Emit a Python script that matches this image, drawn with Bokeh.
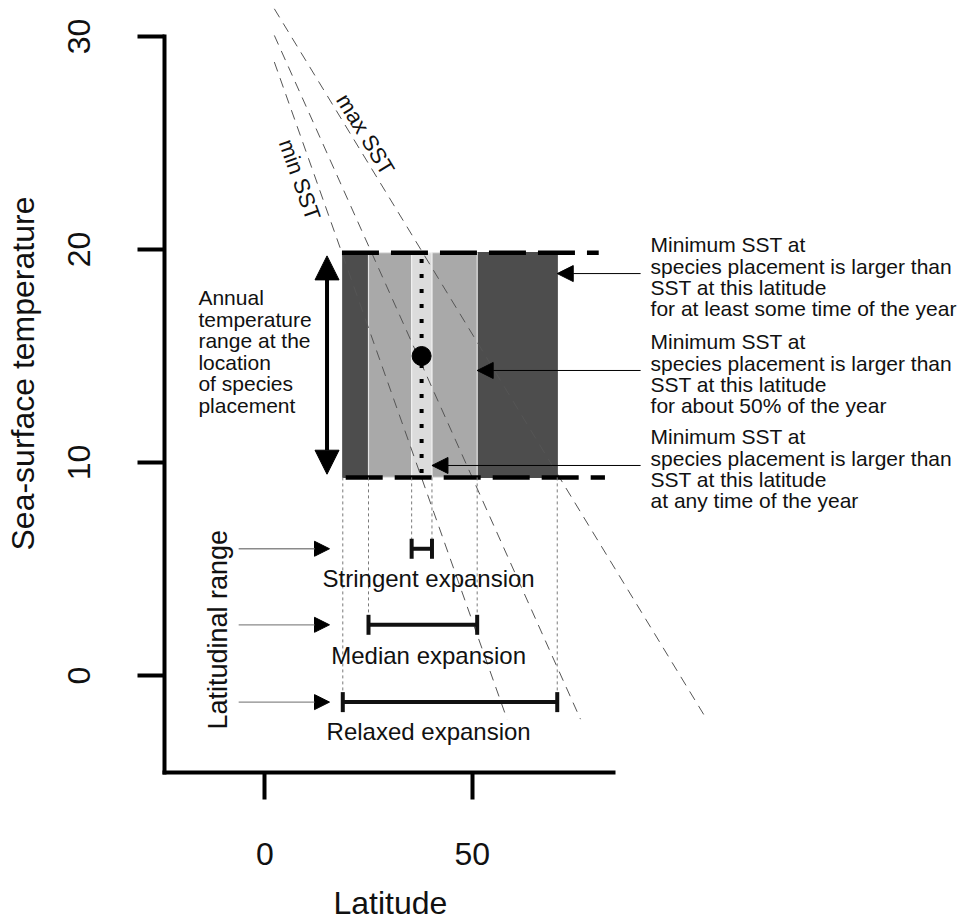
from bokeh.plotting import figure
from bokeh.models import Range1d, FixedTicker, Arrow, NormalHead, TeeHead, Title, LinearAxis
from bokeh.core.properties import value
from bokeh.embed import file_html
from bokeh.resources import INLINE

FONT = "Liberation Sans"
INK = "#111111"

# ---------------- data ----------------
lat_ticks = [0, 50]
sst_ticks = [0, 10, 20, 30]

# SST isolines (latitude vs sea-surface temperature)
iso_lat_start = [2.3, 2.3, 2.3]
iso_sst_start = [28.8, 30.05, 31.3]
iso_lat_end = [58.4, 76.1, 106.5]
iso_sst_end = [-2.05, -2.05, -2.05]

# annual SST range at the location of species placement
sst_min = 9.3
sst_max = 19.85
placement_lat = 37.8
placement_sst = 15.0

# latitudinal expansion ranges
exp_names = ["Relaxed expansion", "Median expansion", "Stringent expansion"]
exp_lat_lo = [18.8, 25.0, 35.4]
exp_lat_hi = [70.5, 51.2, 40.3]
exp_level = [-1.25, 2.38, 5.95]
exp_fill = ["#4d4d4d", "#a9a9a9", "#dcdcdc"]
exp_edge = ["#4d4d4d", "#e4e4e4", "#f2f2f2"]

threshold_top_lat = [18.6, 80.5]
threshold_bottom_lat = [19.5, 82.0]

note_sst = [18.87, 14.32, 9.86]
note_texts = [
    ["Minimum SST at", "species placement is larger than", "SST at this latitude",
     "for at least some time of the year"],
    ["Minimum SST at", "species placement is larger than", "SST at this latitude",
     "for about 50% of the year"],
    ["Minimum SST at", "species placement is larger than", "SST at this latitude",
     "at any time of the year"],
]
range_text = ["Annual", "temperature", "range at the", "location", "of species", "placement"]

# ---------------- figure ----------------
X0, X1 = -24.18, 168.68
Y0, Y1 = -4.554, 31.69
PX_PER_Y = 772 / (Y1 - Y0)

p = figure(width=964, height=924, x_range=Range1d(X0, X1), y_range=Range1d(Y0, Y1),
           output_backend="svg", toolbar_location=None,
           min_border_left=164, min_border_right=0, min_border_top=0, min_border_bottom=152)
p.outline_line_color = None
p.grid.visible = False
p.background_fill_color = "white"
p.border_fill_color = "white"

xax = p.xaxis[0]
yax = p.yaxis[0]
for ax, ticks, bounds in ((xax, lat_ticks, (X0, 84.1)), (yax, sst_ticks, (Y0, 30))):
    ax.ticker = FixedTicker(ticks=ticks)
    ax.bounds = bounds
    ax.axis_line_width = 4
    ax.axis_line_color = "black"
    ax.axis_line_cap = "square"
    ax.major_tick_line_width = 4
    ax.major_tick_line_color = "black"
    ax.major_tick_out = 27
    ax.major_tick_in = 0
    ax.minor_tick_line_color = None
    ax.major_label_text_font = FONT
    ax.major_label_text_font_size = "32px"
    ax.major_label_text_color = INK
xax.major_label_standoff = 43
yax.major_label_standoff = 47
yax.major_label_orientation = "parallel"


def gap(px, at):
    # a blank axis (one white tick in an empty spot, no label) used only as spacing
    return LinearAxis(ticker=FixedTicker(ticks=[at]), axis_line_color=None,
                      major_tick_line_color="white", major_tick_line_width=1,
                      minor_tick_line_color=None,
                      major_tick_out=px, major_tick_in=0, minor_tick_out=0, minor_tick_in=0,
                      major_label_overrides={at: ""}, major_label_text_font_size="0px",
                      major_label_standoff=0)


# axis titles, placed as in the original (centred on the drawn part of the axes)
p.add_layout(gap(15, 150), "below")
p.add_layout(Title(text="Latitude", align="left", offset=169, vertical_align="bottom",
                   standoff=0, text_font=FONT, text_font_size="32px",
                   text_font_style="normal", text_color=INK), "below")
p.add_layout(gap(23, 28), "left")
p.add_layout(Title(text="Sea-surface temperature", align="left", offset=222,
                   vertical_align="top", standoff=0, text_font=FONT,
                   text_font_size="32px", text_font_style="normal", text_color=INK), "left")

# rectangles of the temperature window
p.quad(left=exp_lat_lo, right=exp_lat_hi, bottom=[sst_min] * 3, top=[sst_max] * 3,
       fill_color=exp_fill, line_color=exp_edge, line_width=1.2)

# SST isolines
p.segment(x0=iso_lat_start, y0=iso_sst_start, x1=iso_lat_end, y1=iso_sst_end,
          line_color="#555555", line_width=1, line_dash="10 7")
p.text(x=[8.41, 24.28], y=[23.28, 25.4], text=["min SST", "max SST"],
       angle=[-70.5, -58.7], angle_units="deg", text_align="center", text_baseline="middle",
       text_font=value(FONT), text_font_size="22px", text_color=INK)

# min / max SST threshold lines
p.line(x=threshold_top_lat, y=[sst_max, sst_max], line_color="black", line_width=4.5,
       line_dash="37 12")
p.line(x=threshold_bottom_lat, y=[sst_min, sst_min], line_color="black", line_width=4.5,
       line_dash="37 12")

# placement
p.line(x=[placement_lat, placement_lat], y=[sst_max - 0.3, sst_min + 0.1], line_color="black",
       line_width=4, line_dash="4 11")
p.scatter(x=[placement_lat], y=[placement_sst], size=19, marker="circle",
          fill_color="black", line_color="black")

# drop lines to the expansion ranges
drop_x = exp_lat_lo + exp_lat_hi
drop_y = exp_level + exp_level
p.segment(x0=drop_x, y0=[sst_min] * 6, x1=drop_x, y1=drop_y, line_color="#7a7a7a",
          line_width=1, line_dash="3 3")

# expansion range bars
for lo, hi, lev in zip(exp_lat_lo, exp_lat_hi, exp_level):
    p.add_layout(Arrow(start=TeeHead(size=20, line_width=4, line_color=INK),
                       end=TeeHead(size=20, line_width=4, line_color=INK),
                       x_start=lo, y_start=lev, x_end=hi, y_end=lev,
                       line_width=4, line_color=INK))
p.text(x=[39.5] * 3, y=[-2.65, 0.94, 4.55], text=exp_names, text_align="center",
       text_baseline="middle", text_font=value(FONT), text_font_size="24px", text_color=INK)

# "Latitudinal range" arrows
for lev in exp_level:
    p.add_layout(Arrow(end=NormalHead(size=15, fill_color="black", line_color="black", line_width=1),
                       x_start=-6.3, y_start=lev, x_end=15.6, y_end=lev,
                       line_width=1.3, line_color="#8a8a8a"))
p.text(x=[-11.3], y=[2.15], text=["Latitudinal range"], angle=[90], angle_units="deg",
       text_align="center", text_baseline="middle", text_font=value(FONT),
       text_font_size="27px", text_color=INK)

# annual range double arrow
p.add_layout(Arrow(start=NormalHead(size=24, fill_color="black", line_color="black"),
                   end=NormalHead(size=24, fill_color="black", line_color="black"),
                   x_start=15.0, y_start=9.45, x_end=15.0, y_end=19.7,
                   line_width=4, line_color="black"))
dy = 21.6 / PX_PER_Y
n = len(range_text)
p.text(x=[-16.0] * n, y=[15.21 + ((n - 1) / 2 - i) * dy for i in range(n)], text=range_text,
       text_align="left", text_baseline="middle", text_font=value(FONT),
       text_font_size="21px", text_color=INK)

# explanation arrows and notes on the right
note_x, note_y, note_t = [], [], []
dy = 21.3 / PX_PER_Y
for tip, yv, lines in zip(exp_lat_hi, note_sst, note_texts):
    p.add_layout(Arrow(end=NormalHead(size=16, fill_color="black", line_color="black", line_width=1),
                       x_start=90.6, y_start=yv, x_end=tip, y_end=yv,
                       line_width=1, line_color="black"))
    m = len(lines)
    for i, t in enumerate(lines):
        note_x.append(93.0)
        note_y.append(yv - 0.15 + ((m - 1) / 2 - i) * dy)
        note_t.append(t)
p.text(x=note_x, y=note_y, text=note_t, text_align="left", text_baseline="middle",
       text_font=value(FONT), text_font_size="21px", text_color=INK)

open("out.html", "w").write(file_html(p, INLINE))
